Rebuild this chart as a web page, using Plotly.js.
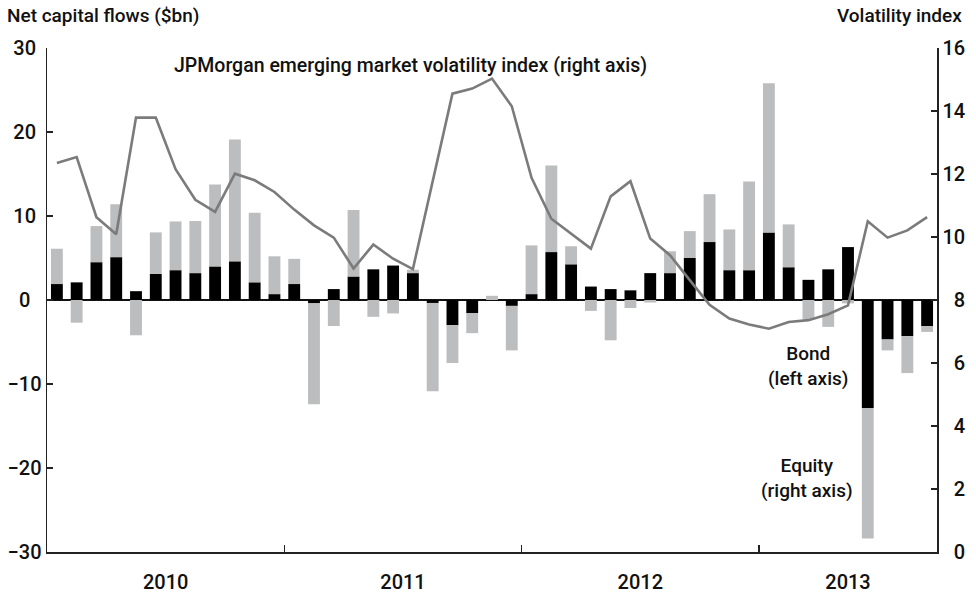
<!DOCTYPE html>
<html>
<head>
<meta charset="utf-8">
<script src="https://cdn.plot.ly/plotly-3.0.1.min.js"></script>
<style>html,body{margin:0;padding:0;background:#fff;}#chart{width:976px;height:599px;}</style>
</head>
<body>
<div id="chart"></div>
<script>
// Months Jan 2010 - Sep 2013
const months = [
  'Jan 2010','Feb 2010','Mar 2010','Apr 2010','May 2010','Jun 2010','Jul 2010','Aug 2010','Sep 2010','Oct 2010','Nov 2010','Dec 2010',
  'Jan 2011','Feb 2011','Mar 2011','Apr 2011','May 2011','Jun 2011','Jul 2011','Aug 2011','Sep 2011','Oct 2011','Nov 2011','Dec 2011',
  'Jan 2012','Feb 2012','Mar 2012','Apr 2012','May 2012','Jun 2012','Jul 2012','Aug 2012','Sep 2012','Oct 2012','Nov 2012','Dec 2012',
  'Jan 2013','Feb 2013','Mar 2013','Apr 2013','May 2013','Jun 2013','Jul 2013','Aug 2013','Sep 2013'
];
// Net bond flows ($bn, left axis)
const bond = [
  1.9, 2.1, 4.5, 5.1, 1.05, 3.1, 3.55, 3.2, 4.0, 4.6, 2.1, 0.7,
  1.9, -0.4, 1.3, 2.8, 3.65, 4.1, 3.2, -0.35, -3.0, -1.55, 0.0, -0.7,
  0.7, 5.7, 4.25, 1.6, 1.3, 1.15, 3.2, 3.2, 5.0, 6.9, 3.55, 3.55,
  8.05, 3.9, 2.4, 3.65, 6.3, -12.85, -4.7, -4.3, -3.1
];
// Net equity flows ($bn)
const equity = [
  4.2, -2.7, 4.3, 6.3, -4.2, 4.95, 5.8, 6.2, 9.75, 14.5, 8.3, 4.5,
  3.0, -12.0, -3.1, 7.9, -2.0, -1.6, 0.4, -10.5, -4.5, -2.4, 0.5, -5.3,
  5.8, 10.3, 2.15, -1.3, -4.8, -0.95, -0.3, 2.6, 3.2, 5.7, 4.85, 10.55,
  17.75, 5.1, -2.3, -3.2, -0.4, -15.55, -1.3, -4.4, -0.7
];
// JPMorgan EM volatility index (right axis)
const vol = [
  12.35, 12.54, 10.63, 10.09, 13.79, 13.79, 12.15, 11.18, 10.8, 12.01, 11.8, 11.43,
  10.87, 10.37, 9.98, 9.0, 9.76, 9.31, 8.98, 11.8, 14.55, 14.71, 15.03, 14.15,
  11.88, 10.58, 10.1, 9.63, 11.29, 11.77, 9.95, 9.42, 8.63, 7.85, 7.41, 7.22,
  7.09, 7.3, 7.36, 7.55, 7.83, 10.5, 9.98, 10.21, 10.63
];
const leftTicks = [30, 20, 10, 0, -10, -20, -30];
const leftTickText = ['30\u2008', '20\u2008', '10\u2008', '0\u2007', '\u221210', '\u221220', '\u221230'];
const rightTicks = [0, 2, 4, 6, 8, 10, 12, 14, 16];
const rightTickText = ['\u20070', '\u20072', '\u20074', '\u20076', '\u20078', '10', '12', '14', '16'];
const yearTickPos = [5.5, 17.5, 29.5, 40];
const yearLabels = ['2010', '2011', '2012', '2013'];
const yearBoundaries = [11.5, 23.5, 35.5];

const xIdx = months.map((m, i) => i);
const FONT = 'Roboto, "Liberation Sans", Arial, sans-serif';
const TXT = '#111111';
const W = 500;

const traces = [
  {type: 'bar', name: 'Bond', x: xIdx, y: bond, text: months, textposition: 'none', hoverinfo: 'text+y',
   marker: {color: '#000000'}, width: 0.6, yaxis: 'y'},
  {type: 'bar', name: 'Equity', x: xIdx, y: equity, text: months, textposition: 'none', hoverinfo: 'text+y',
   marker: {color: '#bcbdbf'}, width: 0.6, yaxis: 'y'},
  {type: 'scatter', mode: 'lines', name: 'Volatility', x: xIdx, y: vol, yaxis: 'y2',
   line: {color: '#7b7b7b', width: 2.6}}
];

const layout = {
  width: 976, height: 599,
  margin: {l: 47, r: 39, t: 48, b: 47},
  paper_bgcolor: '#ffffff', plot_bgcolor: 'rgba(0,0,0,0)',
  barmode: 'relative', bargap: 0.4,
  showlegend: false,
  font: {family: FONT, size: 20, color: TXT, weight: W},
  xaxis: {
    range: [-0.5, 44.5], showgrid: false, zeroline: false,
    showline: true, linecolor: '#222', linewidth: 1.5,
    tickmode: 'array', tickvals: yearTickPos, ticktext: yearLabels, ticks: '',
    ticklabelstandoff: 11,
    minor: {tickmode: 'array', tickvals: yearBoundaries, ticks: 'inside', ticklen: 7, tickwidth: 1.5, tickcolor: '#222'},
    tickfont: {family: FONT, size: 20, color: TXT, weight: W}
  },
  yaxis: {
    range: [-30, 30], showgrid: false,
    zeroline: true, zerolinecolor: '#111', zerolinewidth: 1.5,
    showline: true, linecolor: '#222', linewidth: 1.5,
    tickmode: 'array', tickvals: leftTicks, ticktext: leftTickText,
    ticks: 'inside', ticklen: 6, tickwidth: 1.5, tickcolor: '#222',
    tickfont: {family: FONT, size: 20, color: TXT, weight: W}
  },
  yaxis2: {
    range: [0, 16], overlaying: 'y', side: 'right', showgrid: false, zeroline: false,
    showline: true, linecolor: '#222', linewidth: 1.5,
    tickmode: 'array', tickvals: rightTicks, ticktext: rightTickText,
    ticks: 'inside', ticklen: 6, tickwidth: 1.5, tickcolor: '#222',
    tickfont: {family: FONT, size: 20, color: TXT, weight: W}
  },
  annotations: [
    {text: 'Net capital flows ($bn)', xref: 'paper', yref: 'paper', x: -0.0476, y: 1.065,
     xanchor: 'left', yanchor: 'middle', showarrow: false, font: {family: FONT, size: 19, color: TXT, weight: W}},
    {text: 'Volatility index', xref: 'paper', yref: 'paper', x: 1.0299, y: 1.065,
     xanchor: 'right', yanchor: 'middle', showarrow: false, font: {family: FONT, size: 19, color: TXT, weight: W}},
    {text: 'JPMorgan emerging market volatility index (right axis)', xref: 'paper', yref: 'paper', x: 0.1402, y: 0.9657,
     xanchor: 'left', yanchor: 'middle', showarrow: false, font: {family: FONT, size: 19.5, color: TXT, weight: W}},
    {text: 'Bond<br>(left axis)', xref: 'paper', yref: 'paper', x: 0.8553, y: 0.3684,
     xanchor: 'center', yanchor: 'middle', align: 'center', showarrow: false, font: {family: FONT, size: 19, color: TXT, weight: W}},
    {text: 'Equity<br>(right axis)', xref: 'paper', yref: 'paper', x: 0.8538, y: 0.1462,
     xanchor: 'center', yanchor: 'middle', align: 'center', showarrow: false, font: {family: FONT, size: 19, color: TXT, weight: W}}
  ]
};

Plotly.newPlot('chart', traces, layout, {staticPlot: true, displayModeBar: false});
</script>
</body>
</html>
